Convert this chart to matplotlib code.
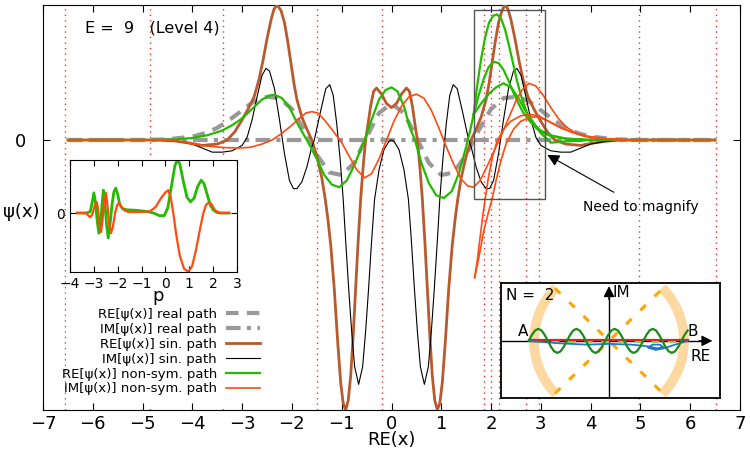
import numpy as np
import matplotlib
matplotlib.use("Agg")
import matplotlib.pyplot as plt
from matplotlib.lines import Line2D
from matplotlib.patches import Arc, Rectangle

# ---- main panel data (x = RE(x), y = psi) ----
turn_x = [-6.55, -4.86, -3.39, -1.49, -0.2, 1.86, 2.0, 2.16, 2.70, 2.96, 4.98, 6.51]

real_re_x = [-6.5, -5.0, -4.5, -4.0, -3.75, -3.5, -3.25, -3.0, -2.75, -2.5, -2.25, -2.0, -1.75, -1.5, -1.25,
             -1.0, -0.75, -0.5, -0.25, 0.0, 0.25, 0.5, 0.75, 1.0, 1.25, 1.5, 1.75, 2.0, 2.25, 2.5, 2.75,
             3.0, 3.25, 3.5, 3.75, 4.0, 4.5, 5.0, 6.5]
real_re_y = [0, 0, 0.005, 0.025, 0.05, 0.09, 0.15, 0.22, 0.29, 0.32, 0.31, 0.23, 0.07, -0.11, -0.24,
             -0.26, -0.17, 0.02, 0.2, 0.27, 0.2, 0.02, -0.17, -0.26, -0.24, -0.11, 0.07, 0.23, 0.31, 0.32, 0.29,
             0.22, 0.15, 0.09, 0.05, 0.025, 0.005, 0, 0]

real_im_x = [-6.5, 6.5]
real_im_y = [0, 0]

sin_re_x = [-6.5, -4.5, -4.1, -3.8, -3.5, -3.3, -3.15, -3.0, -2.88, -2.76, -2.66, -2.58, -2.5, -2.42, -2.36,
            -2.3, -2.22, -2.15, -2.08, -2.02, -1.96, -1.9, -1.8, -1.7, -1.6, -1.5, -1.4, -1.33, -1.28, -1.22,
            -1.15, -1.08, -1.02, -0.97, -0.92, -0.87, -0.82, -0.77, -0.72, -0.67, -0.62, -0.57, -0.52, -0.47,
            -0.42, -0.36, -0.3, -0.2, -0.1, 0.0, 0.1, 0.2, 0.3, 0.36, 0.42, 0.47, 0.52, 0.57, 0.62, 0.67, 0.72,
            0.77, 0.82, 0.87, 0.92, 0.97, 1.02, 1.08, 1.15, 1.22, 1.28, 1.33, 1.4, 1.5, 1.6, 1.7, 1.8, 1.9,
            1.96, 2.02, 2.08, 2.15, 2.22, 2.28, 2.34, 2.4, 2.48, 2.56, 2.64, 2.74, 2.86, 2.98, 3.13, 3.28, 3.5,
            3.8, 4.1, 4.5, 6.5]
sin_re_y = [0, 0, -0.02, -0.04, -0.03, 0.0, 0.06, 0.15, 0.23, 0.32, 0.45, 0.59, 0.75, 0.89, 0.97,
            1.0, 0.96, 0.87, 0.72, 0.57, 0.42, 0.3, 0.17, 0.08, 0.0, -0.12, -0.28, -0.44, -0.58, -0.78,
            -1.1, -1.5, -1.8, -1.95, -2.0, -1.93, -1.75, -1.45, -1.1, -0.75, -0.44, -0.2, 0.0, 0.12,
            0.25, 0.36, 0.385, 0.34, 0.27, 0.24, 0.27, 0.34, 0.385, 0.36, 0.25, 0.12, 0.0, -0.2, -0.44, -0.75, -1.1,
            -1.45, -1.75, -1.93, -2.0, -1.95, -1.8, -1.5, -1.1, -0.78, -0.58, -0.44, -0.28, -0.12, 0.0, 0.08, 0.17, 0.3,
            0.42, 0.57, 0.72, 0.87, 0.96, 1.0, 0.97, 0.89, 0.75, 0.59, 0.45, 0.32, 0.23, 0.15, 0.06, 0.0, -0.03,
            -0.04, -0.02, 0, 0]

sin_im_x = [-6.5, -4.7, -4.3, -4.0, -3.8, -3.6, -3.4, -3.2, -3.0, -2.9, -2.8, -2.7, -2.6, -2.52, -2.45,
            -2.35, -2.25, -2.15, -2.05, -1.97, -1.9, -1.8, -1.7, -1.6, -1.55, -1.42, -1.32, -1.24, -1.17,
            -1.1, -1.03, -0.97, -0.92, -0.86, -0.8, -0.74, -0.66, -0.58, -0.52, -0.46, -0.4, -0.34, -0.25,
            -0.15, -0.05, 0.0, 0.05, 0.15, 0.25, 0.34, 0.4, 0.46, 0.52, 0.58, 0.66, 0.74, 0.8, 0.86, 0.92,
            0.97, 1.03, 1.1, 1.17, 1.24, 1.32, 1.42, 1.55, 1.6, 1.7, 1.8, 1.9, 1.97, 2.05, 2.15, 2.25, 2.35,
            2.45, 2.52, 2.6, 2.7, 2.8, 2.9, 3.0, 3.2, 3.4, 3.6, 3.8, 4.0, 4.3, 4.7, 6.5]
sin_im_y = [0, 0, -0.01, -0.03, -0.06, -0.09, -0.09, -0.08, -0.04, 0.02, 0.15, 0.32, 0.48, 0.53, 0.51,
            0.38, 0.15, -0.1, -0.3, -0.36, -0.36, -0.31, -0.2, -0.05, 0.0, 0.22, 0.38, 0.41, 0.33,
            0.12, -0.15, -0.44, -0.75, -1.1, -1.42, -1.68, -1.81, -1.68, -1.42, -1.1, -0.75, -0.44, -0.22,
            -0.07, -0.01, 0.0, -0.01, -0.07, -0.22, -0.44, -0.75, -1.1, -1.42, -1.68, -1.81, -1.68, -1.42, -1.1, -0.75,
            -0.44, -0.15, 0.12, 0.33, 0.41, 0.38, 0.22, 0.0, -0.05, -0.2, -0.31, -0.36, -0.36, -0.3, -0.1, 0.15, 0.38,
            0.51, 0.53, 0.48, 0.32, 0.15, 0.02, -0.04, -0.08, -0.09, -0.09, -0.06, -0.03, -0.01, 0, 0]

ns_re_x = [-6.5, -4.6, -4.3, -4.0, -3.7, -3.4, -3.2, -3.0, -2.8, -2.6, -2.45, -2.35, -2.2, -2.05, -1.9,
           -1.78, -1.67, -1.5, -1.35, -1.2, -1.05, -0.9, -0.75, -0.62, -0.54, -0.4, -0.25, -0.12, 0.0, 0.12,
           0.25, 0.36, 0.47, 0.6, 0.75, 0.9, 1.05, 1.21, 1.35, 1.5, 1.58, 1.65]
ns_re_y = [0, 0, 0.005, 0.015, 0.035, 0.07, 0.11, 0.16, 0.23, 0.3, 0.33, 0.335, 0.31, 0.24, 0.13,
           0.05, -0.02, -0.14, -0.26, -0.33, -0.35, -0.3, -0.19, -0.07, 0.0, 0.15, 0.3, 0.37, 0.39, 0.36,
           0.25, 0.1, 0.0, -0.17, -0.32, -0.41, -0.43, -0.38, -0.25, -0.05, 0.07, 0.19]
# branches of the non-sym. path inside the box
ns_re_b1_x = [1.65, 1.72, 1.8, 1.88, 1.96, 2.04, 2.12, 2.2, 2.28, 2.36, 2.44, 2.52, 2.6, 2.7, 2.8, 2.9,
              3.0, 3.2, 3.5, 4.0, 6.5]
ns_re_b1_y = [0.19, 0.4, 0.6, 0.76, 0.87, 0.92, 0.93, 0.9, 0.82, 0.7, 0.57, 0.44, 0.33, 0.22, 0.14, 0.09,
              0.06, 0.03, 0.01, 0.0, 0]
ns_re_b2_x = [1.65, 1.75, 1.85, 1.95, 2.05, 2.15, 2.25, 2.35, 2.45, 2.55, 2.65, 2.8, 3.0, 3.2, 3.5, 4.0]
ns_re_b2_y = [0.19, 0.33, 0.45, 0.54, 0.58, 0.57, 0.52, 0.44, 0.35, 0.27, 0.2, 0.13, 0.07, 0.035, 0.01, 0.0]
ns_re_b3_x = [1.65, 1.8, 1.95, 2.1, 2.25, 2.4, 2.55, 2.7, 2.85, 3.0, 3.2, 3.5, 4.0]
ns_re_b3_y = [0.19, 0.27, 0.34, 0.39, 0.42, 0.39, 0.31, 0.21, 0.13, 0.05, -0.02, -0.01, 0.0]

ns_im_x = [-6.5, -4.6, -4.3, -4.0, -3.7, -3.4, -3.1, -2.85, -2.6, -2.4, -2.2, -2.0, -1.85, -1.72, -1.6,
           -1.48, -1.35, -1.2, -1.0, -0.85, -0.7, -0.54, -0.4, -0.25, -0.1, 0.05, 0.2, 0.35, 0.5, 0.65, 0.8,
           0.95, 1.1, 1.25, 1.4, 1.53, 1.65, 1.78, 1.9, 2.0, 2.1, 2.2, 2.35, 2.5, 2.62, 2.76, 2.9, 3.05, 3.2,
           3.35, 3.5, 3.7, 3.9, 4.2, 4.6, 6.5]
ns_im_y = [0, 0, -0.01, -0.03, -0.045, -0.055, -0.06, -0.055, -0.03, 0.0, 0.05, 0.11, 0.16, 0.2, 0.21,
           0.2, 0.15, 0.08, -0.02, -0.12, -0.22, -0.28, -0.25, -0.14, 0.0, 0.14, 0.25, 0.32, 0.34, 0.31, 0.22,
           0.09, -0.05, -0.18, -0.29, -0.34, -0.35, -0.3, -0.21, -0.13, -0.05, 0.03, 0.16, 0.29, 0.37, 0.42, 0.4, 0.33, 0.24,
           0.16, 0.1, 0.05, 0.025, 0.01, 0, 0]
ns_im_b1_x = [1.67, 1.72, 1.78, 1.83, 1.88, 1.95, 2.03, 2.12, 2.25, 2.4, 2.6, 2.8, 3.0, 3.2, 3.4, 3.7,
              4.0, 4.4, 4.8]
ns_im_b1_y = [-1.02, -0.9, -0.72, -0.57, -0.44, -0.27, -0.12, -0.01, 0.08, 0.14, 0.18, 0.19, 0.17, 0.13,
              0.09, 0.05, 0.02, 0.005, 0]
ns_im_b2_x = [1.67, 1.75, 1.85, 1.95, 2.02, 2.1, 2.2, 2.3, 2.45, 2.6, 2.8, 2.95, 3.15, 3.35, 3.6, 3.9,
              4.3, 4.8]
ns_im_b2_y = [-1.02, -0.88, -0.68, -0.53, -0.44, -0.3, -0.15, -0.03, 0.08, 0.14, 0.17, 0.17, 0.14, 0.1,
              0.06, 0.03, 0.01, 0]

# ---- momentum inset data ----
p_re_x = [-3.7, -3.3, -3.15, -3.07, -3.0, -2.93, -2.86, -2.79, -2.72, -2.66, -2.6, -2.54, -2.47, -2.4,
          -2.33, -2.24, -2.16, -2.08, -2.0, -1.92, -1.8, -1.6, -1.2, -0.8, -0.5, -0.25, -0.05, 0.1, 0.25,
          0.4, 0.5, 0.6, 0.75, 0.9, 1.05, 1.2, 1.35, 1.5, 1.62, 1.75, 1.88, 2.0, 2.15, 2.3, 2.67]
p_re_y = [0, 0.0, 0.03, 0.2, 0.38, 0.2, -0.15, -0.38, -0.2, 0.15, 0.43, 0.2, -0.2, -0.47,
          -0.25, 0.15, 0.4, 0.47, 0.35, 0.17, 0.08, 0.06, 0.05, 0.03, 0.0, -0.05, -0.05, 0.1, 0.5,
          0.9, 1.0, 0.93, 0.6, 0.3, 0.21, 0.28, 0.5, 0.62, 0.55, 0.35, 0.15, 0.06, 0.01, 0.0, 0.0]
p_im_x = [-3.7, -3.35, -3.22, -3.16, -3.08, -3.0, -2.94, -2.88, -2.83, -2.77, -2.7, -2.64, -2.57, -2.49,
          -2.43, -2.36, -2.28, -2.2, -2.1, -2.02, -1.95, -1.85, -1.72, -1.56, -1.0, -0.65, -0.4, -0.2, 0.0,
          0.12, 0.22, 0.33, 0.45, 0.6, 0.78, 0.96, 1.12, 1.28, 1.45, 1.59, 1.7, 1.84, 1.95, 2.08, 2.29, 2.67]
p_im_y = [0, 0.0, -0.05, -0.08, -0.04, 0.08, 0.18, 0.21, 0.1, -0.2, -0.36, -0.15, 0.2, 0.38,
          0.15, -0.2, -0.38, -0.25, 0.02, 0.15, 0.19, 0.12, 0.05, 0.02, 0.02, 0.03, 0.12, 0.27, 0.39,
          0.43, 0.3, 0.0, -0.4, -0.8, -1.05, -1.11, -1.0, -0.7, -0.3, 0.0, 0.15, 0.21, 0.15, 0.05, 0.0, 0.0]

# ---- complex plane sketch data ----
wave_y = [0, .08, .139, .16, .139, .08, 0, -.08, -.139, -.16, -.139, -.08,
          0, .08, .139, .16, .139, .08, 0, -.08, -.139, -.16, -.139, -.08,
          0, .08, .139, .16, .139, .08, 0, -.08, -.139, -.16, -.139, -.08,
          0, .08, .139, .16, .139, .08, 0, -.08, -.139, -.16, -.139, -.08,
          0, .08, .139]
blue_x = [-1.07, -0.7, -0.3, 0.0, 0.3, 0.5, 0.65, 0.72, 0.68, 0.58, 0.52, 0.62, 0.73, 0.85, 1.05]
blue_y = [0, -0.03, -0.05, -0.04, -0.05, -0.07, -0.1, -0.08, -0.05, -0.05, -0.09, -0.12, -0.1, -0.06, 0]

BROWN = '#b85a2e'
GREEN = '#22bb00'
ORANGE = '#ff4a10'
GRAY = '#999999'

fig = plt.figure(figsize=(7.5, 4.5), dpi=100)
ax = fig.add_axes([43/750, 40/450, 697/750, 405/450])

for t in turn_x:
    ax.axvline(t, color='#ff2a2a', lw=1.0, ls=(0, (1, 3)), zorder=1)
# opaque key area under the legend / inset
ax.add_patch(Rectangle((23/697, 0.003), 245/697, 250/405, transform=ax.transAxes,
                       fc='white', ec='none', zorder=1.2))

ax.plot(real_im_x, real_im_y, color=GRAY, lw=3, dashes=(3.5, 1.5, 1, 1.5), zorder=2)
ax.plot(real_re_x, real_re_y, color=GRAY, lw=3, dashes=(3, 2), zorder=2)
ax.plot(sin_re_x, sin_re_y, color=BROWN, lw=2.0, zorder=3)
ax.plot(sin_im_x, sin_im_y, color='black', lw=0.8, zorder=3)
for bx, by in [(ns_re_x, ns_re_y), (ns_re_b1_x, ns_re_b1_y), (ns_re_b2_x, ns_re_b2_y), (ns_re_b3_x, ns_re_b3_y)]:
    ax.plot(bx, by, color=GREEN, lw=1.6, zorder=4)
for bx, by in [(ns_im_x, ns_im_y), (ns_im_b1_x, ns_im_b1_y), (ns_im_b2_x, ns_im_b2_y)]:
    ax.plot(bx, by, color=ORANGE, lw=1.2, zorder=5)

ax.add_patch(Rectangle((1.65, -0.437), 1.43, 1.4, fill=False, ec='#555555', lw=1.0, zorder=6))

ax.set_xlim(-7, 7)
ax.set_ylim(-2.0, 1.0)
ax.set_xticks(range(-7, 8))
ax.set_yticks([0])
ax.tick_params(direction='in', top=True, right=True, labelsize=13, length=5)
ax.tick_params(axis='y', pad=12)
ax.set_xlabel('RE(x)', fontsize=13, labelpad=-1)

ax.text(-6.15, 0.83, 'E =  9   (Level 4)', fontsize=11.5, va='center')
ax.annotate('Need to magnify', xy=(3.13, -0.11), xytext=(3.85, -0.5), fontsize=10, va='center',
            arrowprops=dict(arrowstyle='-|>', color='black', lw=0.8, mutation_scale=18, shrinkA=8, shrinkB=0))
fig.text(21/750, 1 - 212/450, 'ψ(x)', fontsize=13, ha='center', va='center')

handles = [Line2D([], [], color=GRAY, lw=3, dashes=(3, 2)),
           Line2D([], [], color=GRAY, lw=3, dashes=(3.5, 1.5, 1, 1.5)),
           Line2D([], [], color=BROWN, lw=2.0),
           Line2D([], [], color='black', lw=0.8),
           Line2D([], [], color=GREEN, lw=1.6),
           Line2D([], [], color=ORANGE, lw=1.2)]
labels = ['RE[ψ(x)] real path', 'IM[ψ(x)] real path', 'RE[ψ(x)] sin. path',
          'IM[ψ(x)] sin. path', 'RE[ψ(x)] non-sym. path', 'IM[ψ(x)] non-sym. path']
ax.legend(handles, labels, loc='upper right', bbox_to_anchor=(267/750, 1 - 301/450),
          bbox_transform=fig.transFigure, frameon=False, markerfirst=False, fontsize=9.5,
          handlelength=2.6, handletextpad=0.7, labelspacing=0.15, borderpad=0)

# momentum-space inset
ax2 = fig.add_axes([70/750, 178/450, 167/750, 112/450])
ax2.plot(p_re_x, p_re_y, color=GREEN, lw=2.0)
ax2.plot(p_im_x, p_im_y, color=ORANGE, lw=1.6)
ax2.set_xlim(-4, 3)
ax2.set_ylim(-59/53, 1.0)
ax2.set_xticks(range(-4, 4))
ax2.set_yticks([0])
ax2.tick_params(direction='in', top=True, right=True, labelsize=10, length=4)
ax2.set_xlabel('p', fontsize=13)
ax2.xaxis.set_label_coords(0.525, -0.135)

# complex plane sketch inset
ax3 = fig.add_axes([501/750, 52/450, 219/750, 115/450])
ax3.set_xlim(-1.44, 1.48)
ax3.set_ylim(-0.76, 0.77)
ax3.set_xticks([])
ax3.set_yticks([])
for s in ax3.spines.values():
    s.set_linewidth(1.3)
ax3.add_patch(Arc((0, 0), 2, 2, theta1=135, theta2=225, color='#fdd8a0', lw=7))
ax3.add_patch(Arc((0, 0), 2, 2, theta1=-45, theta2=45, color='#fdd8a0', lw=7))
ax3.plot([-0.72, 0.72], [0.7, -0.7], color='#ffa500', lw=2.2, dashes=(2.5, 4))
ax3.plot([-0.72, 0.72], [-0.7, 0.7], color='#ffa500', lw=2.2, dashes=(2.5, 4))
ax3.plot([-1.44, 1.3], [0, 0], color='black', lw=1)
ax3.plot([0, 0], [-0.76, 0.65], color='black', lw=1)
ax3.annotate('', xy=(1.38, 0), xytext=(1.2, 0),
             arrowprops=dict(arrowstyle='-|>', color='black', lw=1, mutation_scale=16, shrinkA=0, shrinkB=0))
ax3.annotate('', xy=(0, 0.73), xytext=(0, 0.55),
             arrowprops=dict(arrowstyle='-|>', color='black', lw=1, mutation_scale=16, shrinkA=0, shrinkB=0))
ax3.plot([-1.0, 1.0], [0, 0], color='#77dd55', lw=2, dashes=(3, 3))
ax3.plot([-1.07, 1.05], [0.01, 0.01], color='#dd2222', lw=1.6)
ax3.plot(blue_x, blue_y, color='#2277cc', lw=1.3)
ax3.plot(np.linspace(-1.07, 1.05, len(wave_y)), wave_y, color='#1a8a1a', lw=1.6)
ax3.text(-1.38, 0.6, 'N =  2', fontsize=11, va='center')
ax3.text(0.05, 0.64, 'IM', fontsize=11, va='center')
ax3.text(1.08, -0.21, 'RE', fontsize=11, va='center')
ax3.text(-1.15, 0.12, 'A', fontsize=11, ha='center', va='center')
ax3.text(1.12, 0.12, 'B', fontsize=11, ha='center', va='center')

fig.savefig('out.png', dpi=100)
